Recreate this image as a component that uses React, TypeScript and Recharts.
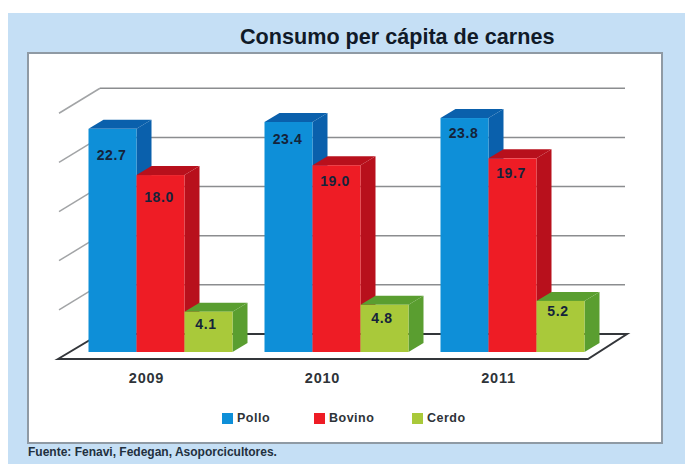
import { Bar, BarChart, CartesianGrid, LabelList, Legend, XAxis, YAxis } from 'recharts';

const years = ['2009', '2010', '2011'];
const pollo = [22.7, 23.4, 23.8];
const bovino = [18.0, 19.0, 19.7];
const cerdo = [4.1, 4.8, 5.2];
const yTicks = [0, 5, 10, 15, 20, 25];

// how far each printed value sits under the top of its bar
const polloDrop = [26, 17, 15];
const bovinoDrop = [22, 16, 15];
const cerdoDrop = [12, 13, 10];

const data = years.map((year, i) => ({
  year,
  pollo: pollo[i],
  bovino: bovino[i],
  cerdo: cerdo[i],
}));

const FONT = '"Liberation Sans", Arial, sans-serif';
const DEPTH_X = 15;
const DEPTH_Y = 9;
const LEGEND_WIDTHS = [92, 98, 70];

function Box3D(props: any) {
  const { x, y, width, height, fill, dark } = props;
  const r = x + width;
  const b = y + height;
  return (
    <g>
      <polygon
        points={`${r},${y} ${r + DEPTH_X},${y - DEPTH_Y} ${r + DEPTH_X},${b - DEPTH_Y} ${r},${b}`}
        fill={dark}
      />
      <polygon
        points={`${x},${y} ${x + DEPTH_X},${y - DEPTH_Y} ${r + DEPTH_X},${y - DEPTH_Y} ${r},${y}`}
        fill={dark}
      />
      <rect x={x} y={y} width={width} height={height} fill={fill} />
    </g>
  );
}

// grid lines run along the back wall, with a slanted stub down the side wall
function wallLine(props: any) {
  const { y1: y, index, key } = props;
  if (index === 0) {
    return (
      <polygon
        key={key}
        points={`58,${y + 7} 100,${y - 18} 627,${y - 18} 588,${y + 7}`}
        fill="#fff"
        stroke="#33363a"
        strokeWidth={2}
      />
    );
  }
  return (
    <g key={key} stroke="#8b8d8f" strokeWidth={1.5} fill="none">
      <line x1={59} y1={y + 7} x2={100} y2={y - 18} stroke="#a2a4a6" />
      <line x1={100} y1={y - 18} x2={625} y2={y - 18} />
    </g>
  );
}

function YearTick(props: any) {
  const { x, y, payload } = props;
  return (
    <text x={x - 14} y={y + 23} textAnchor="middle" fontFamily={FONT} fontWeight={700} fontSize={14.5} letterSpacing={0.8} fill="#2e3338">
      {payload.value}
    </text>
  );
}

function valueLabel(drops: number[], shiftX: number) {
  return function ValueLabel(props: any) {
    const { x, y, width, value, index } = props;
    return (
      <text
        x={x + width / 2 + shiftX}
        y={y + drops[index] + 5}
        textAnchor="middle"
        fontFamily={FONT}
        fontWeight={700}
        fontSize={14}
        letterSpacing={0.6}
        fill="#14233a"
      >
        {Number(value).toFixed(1)}
      </text>
    );
  };
}

function LegendRow(props: any) {
  return (
    <div style={{ display: 'flex', paddingLeft: 222 }}>
      {props.payload.map((item: any, i: number) => (
        <div key={item.value} style={{ display: 'flex', alignItems: 'center', gap: 4, width: LEGEND_WIDTHS[i], fontFamily: FONT, fontWeight: 700, fontSize: 12.5, letterSpacing: 0.5, color: '#2e3338' }}>
          <span style={{ width: 11, height: 11, background: item.color }} />
          {item.value}
        </div>
      ))}
    </div>
  );
}

export default function App() {
  return (
    <div style={{ position: 'absolute', left: 0, top: 0, width: 685, height: 464, background: '#fff', overflow: 'hidden' }}>
      <div style={{ position: 'absolute', left: 8, top: 13, right: 0, bottom: 0, background: '#c5dff5' }} />
      <div style={{ position: 'absolute', left: 27, top: 52, width: 632, height: 388, background: '#fff', border: '2px solid #8f9aa4' }} />
      <div style={{ position: 'absolute', left: 240, top: 25, fontFamily: FONT, fontWeight: 700, fontSize: 21.6, lineHeight: '24px', color: '#101a28', whiteSpace: 'nowrap' }}>
        Consumo per cápita de carnes
      </div>
      <div style={{ position: 'absolute', left: 28, top: 445, fontFamily: FONT, fontWeight: 700, fontSize: 12, lineHeight: '14px', color: '#22303e', whiteSpace: 'nowrap' }}>
        Fuente: Fenavi, Fedegan, Asoporcicultores.
      </div>
      <div style={{ position: 'absolute', left: 0, top: 0 }}>
        <BarChart
          width={685}
          height={464}
          data={data}
          margin={{ top: 106.25, right: 84.5, bottom: 42, left: 0 }}
          barCategoryGap={16}
          barGap={0}
        >
          <YAxis width={72.5} domain={[0, 25]} ticks={yTicks} interval={0} axisLine={false} tickLine={false} tick={() => <g />} />
          <XAxis dataKey="year" height={30} axisLine={false} tickLine={false} tick={<YearTick />} />
          <CartesianGrid vertical={false} horizontal={wallLine} />
          <Legend
            verticalAlign="bottom"
            height={40}
            itemSorter={null}
            content={<LegendRow />}
            wrapperStyle={{ position: 'absolute', left: 0, top: 411, bottom: 'auto', width: 685 }}
          />
          <Bar dataKey="pollo" name="Pollo" fill="#0e8fd8" isAnimationActive={false} shape={<Box3D dark="#0a60ac" />}>
            <LabelList dataKey="pollo" content={valueLabel(polloDrop, -1)} />
          </Bar>
          <Bar dataKey="bovino" name="Bovino" fill="#ee1c25" isAnimationActive={false} shape={<Box3D dark="#b8101c" />}>
            <LabelList dataKey="bovino" content={valueLabel(bovinoDrop, -1.5)} />
          </Bar>
          <Bar dataKey="cerdo" name="Cerdo" fill="#a9c93a" isAnimationActive={false} shape={<Box3D dark="#5a9e30" />}>
            <LabelList dataKey="cerdo" content={valueLabel(cerdoDrop, -2.5)} />
          </Bar>
        </BarChart>
      </div>
    </div>
  );
}
